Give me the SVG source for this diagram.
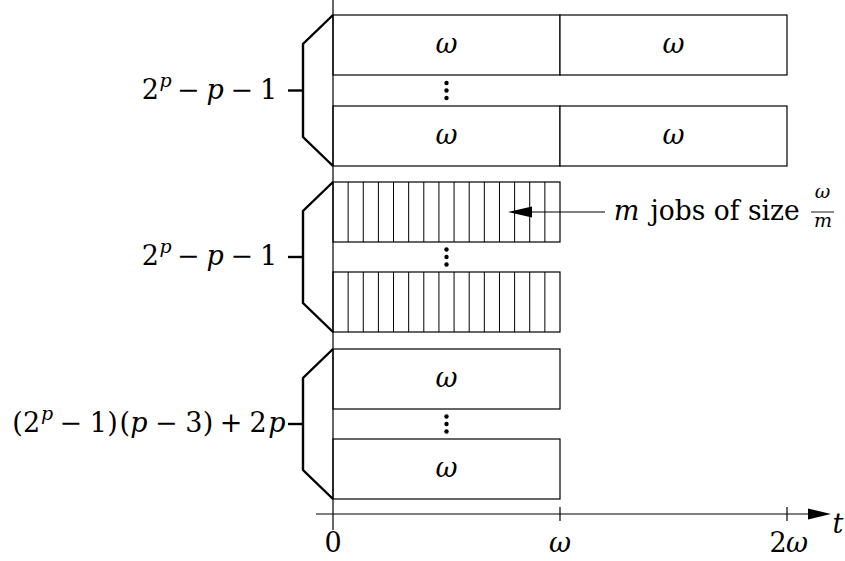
<svg xmlns="http://www.w3.org/2000/svg" width="845" height="561" viewBox="0 0 845 561">
<defs>
<style>
.box{fill:#fff;stroke:#000;stroke-width:1.2}
.stripe{stroke:#000;stroke-width:1}
.brace{fill:none;stroke:#000;stroke-width:2.4;stroke-linejoin:miter}
.ln{stroke:#000;stroke-width:1.2;fill:none}
text{font-family:'DejaVu Serif','Liberation Serif',serif;font-size:27px;fill:#000;text-anchor:middle}
.i{font-style:italic}
.sup{font-size:19px;font-style:italic}
.s{font-size:19px}
</style>
</defs>

<g id="group-top">
  <rect class="box" x="333" y="15" width="227" height="60"/>
  <rect class="box" x="560" y="15" width="227" height="60"/>
  <rect class="box" x="333" y="106" width="227" height="60"/>
  <rect class="box" x="560" y="106" width="227" height="60"/>
  <text class="i" x="446.5" y="53">ω</text>
  <text class="i" x="673.5" y="53">ω</text>
  <text class="i" x="446.5" y="144">ω</text>
  <text class="i" x="673.5" y="144">ω</text>
  <circle cx="446.5" cy="83" r="2.2"/>
  <circle cx="446.5" cy="90.5" r="2.2"/>
  <circle cx="446.5" cy="98" r="2.2"/>
  <path class="brace" d="M333,15 L303,44 L303,137 L333,166"/>
  <line class="brace" x1="288" y1="90.5" x2="303" y2="90.5"/>
  <text y="98.5"><tspan x="150.3">2</tspan><tspan class="sup" x="165.5" dy="-12">p</tspan><tspan x="188.3" dy="12">−</tspan><tspan class="i" x="215.1">p</tspan><tspan x="241.9">−</tspan><tspan x="268.5">1</tspan></text>
</g>

<g id="group-middle">
  <rect class="box" x="333" y="182" width="227" height="60"/>
  <rect class="box" x="333" y="272" width="227" height="60"/>
  <path class="stripe" d="M348.13,182V242M363.27,182V242M378.4,182V242M393.53,182V242M408.67,182V242M423.8,182V242M438.93,182V242M454.07,182V242M469.2,182V242M484.33,182V242M499.47,182V242M514.6,182V242M529.73,182V242M544.87,182V242"/>
  <path class="stripe" d="M348.13,272V332M363.27,272V332M378.4,272V332M393.53,272V332M408.67,272V332M423.8,272V332M438.93,272V332M454.07,272V332M469.2,272V332M484.33,272V332M499.47,272V332M514.6,272V332M529.73,272V332M544.87,272V332"/>
  <circle cx="446.5" cy="249.5" r="2.2"/>
  <circle cx="446.5" cy="257" r="2.2"/>
  <circle cx="446.5" cy="264.5" r="2.2"/>
  <path class="brace" d="M333,182 L303,211 L303,303 L333,332"/>
  <line class="brace" x1="288" y1="257" x2="303" y2="257"/>
  <text y="265"><tspan x="150.3">2</tspan><tspan class="sup" x="165.5" dy="-12">p</tspan><tspan x="188.3" dy="12">−</tspan><tspan class="i" x="215.1">p</tspan><tspan x="241.9">−</tspan><tspan x="268.5">1</tspan></text>
</g>

<g id="group-bottom">
  <rect class="box" x="333" y="349" width="227" height="60"/>
  <rect class="box" x="333" y="439" width="227" height="60"/>
  <text class="i" x="446.5" y="387">ω</text>
  <text class="i" x="446.5" y="477">ω</text>
  <circle cx="446.5" cy="416.5" r="2.2"/>
  <circle cx="446.5" cy="424" r="2.2"/>
  <circle cx="446.5" cy="431.5" r="2.2"/>
  <path class="brace" d="M333,349 L303,378 L303,470 L333,499"/>
  <line class="brace" x1="288" y1="424" x2="303" y2="424"/>
  <text y="432"><tspan x="17.5">(</tspan><tspan x="31.5">2</tspan><tspan class="sup" x="47" dy="-12">p</tspan><tspan x="70.9" dy="12">−</tspan><tspan x="98.3">1</tspan><tspan x="112.4">)</tspan><tspan x="124.8">(</tspan><tspan class="i" x="139">p</tspan><tspan x="166.4">−</tspan><tspan x="193.8">3</tspan><tspan x="208">)</tspan><tspan x="231">+</tspan><tspan x="258">2</tspan><tspan class="i" x="277">p</tspan></text>
</g>

<g id="label-jobs">
  <text class="i" x="626.5" y="220">m</text>
  <text x="650.6" y="220" style="text-anchor:start" textLength="149" lengthAdjust="spacingAndGlyphs">jobs of size</text>
  <text class="s i" x="822.5" y="198">ω</text>
  <line x1="811" y1="212" x2="834" y2="212" stroke="#000" stroke-width="0.9"/>
  <text class="s i" x="823" y="227">m</text>
</g>

<g id="connectors">
  <line class="ln" x1="316" y1="514" x2="809" y2="514"/>
  <polygon points="831,514 808,508.5 808,519.5" fill="#000"/>
  <line class="ln" x1="333" y1="0" x2="333" y2="530"/>
  <line class="ln" x1="560" y1="507" x2="560" y2="521"/>
  <line class="ln" x1="787" y1="507" x2="787" y2="521"/>
  <line class="ln" x1="530" y1="212" x2="605" y2="212"/>
  <polygon points="508,212 532,206.5 532,217.5" fill="#000"/>
</g>

<g id="axis-labels">
  <text x="333" y="552">0</text>
  <text class="i" x="560" y="552">ω</text>
  <text y="552"><tspan x="778">2</tspan><tspan class="i" x="797">ω</tspan></text>
  <text class="i" x="838" y="533">t</text>
</g>
</svg>
